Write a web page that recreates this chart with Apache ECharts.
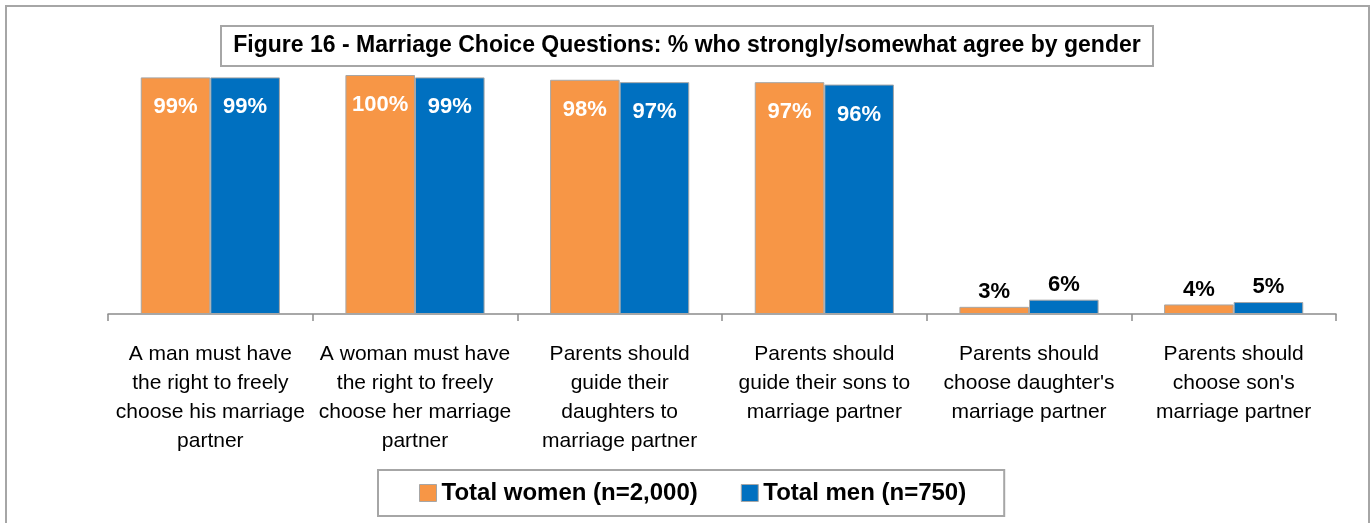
<!DOCTYPE html>
<html>
<head>
<meta charset="utf-8">
<script src="https://cdn.jsdelivr.net/npm/echarts@6/dist/echarts.min.js"></script>
<style>
html,body{margin:0;padding:0;background:#fff;}
#chart{width:1372px;height:523px;}
</style>
</head>
<body>
<div id="chart"></div>
<script>
const titleText = 'Figure 16 - Marriage Choice Questions: % who strongly/somewhat agree by gender';
const categories = [
  'A man must have\nthe right to freely\nchoose his marriage\npartner',
  'A woman must have\nthe right to freely\nchoose her marriage\npartner',
  'Parents should\nguide their\ndaughters to\nmarriage partner',
  'Parents should\nguide their sons to\nmarriage partner',
  'Parents should\nchoose daughter\'s\nmarriage partner',
  'Parents should\nchoose son\'s\nmarriage partner'
];
const seriesNames = ['Total women (n=2,000)', 'Total men (n=750)'];
const women = [99, 100, 98, 97, 3, 4];
const men = [99, 99, 97, 96, 6, 5];
const colors = ['#F79646', '#0070C0'];
const FONT = 'Liberation Sans';

function buildData(vals) {
  return vals.map(v => {
    const small = v < 20;
    return {
      value: v,
      label: small
        ? { position: 'top', color: '#000', distance: 4 }
        : { position: 'insideTop', color: '#fff', distance: 19 }
    };
  });
}

const chart = echarts.init(document.getElementById('chart'));
chart.setOption({
  animation: false,
  graphic: [
    { type: 'rect', shape: { x: 6, y: 6, width: 1363, height: 540 }, style: { fill: 'none', stroke: '#A6A6A6', lineWidth: 2 }, silent: true },
    { type: 'rect', shape: { x: 221, y: 26, width: 932, height: 40 }, style: { fill: '#fff', stroke: '#A6A6A6', lineWidth: 2 }, z: 10 },
    { type: 'text', x: 687, y: 46, z: 11, style: { text: titleText, fill: '#000', font: 'bold 23px "' + FONT + '"', align: 'center', verticalAlign: 'middle' } }
  ],
  grid: { left: 108, right: 36, top: 75, bottom: 209, containLabel: false },
  legend: {
    bottom: 7,
    left: 378,
    itemWidth: 17,
    itemHeight: 17,
    itemGap: 43,
    padding: [11, 38, 11, 41],
    borderColor: '#A6A6A6',
    borderWidth: 2,
    icon: 'rect',
    textStyle: { fontFamily: FONT, fontWeight: 'bold', fontSize: 24, color: '#000' },
    data: seriesNames.map((n, i) => ({ name: n, itemStyle: { borderColor: '#A6A6A6', borderWidth: 1 } }))
  },
  xAxis: {
    type: 'category',
    data: categories,
    axisLine: { lineStyle: { color: '#8C8C8C', width: 1.5 } },
    axisTick: { show: true, length: 7, lineStyle: { color: '#8C8C8C', width: 1.5 } },
    axisLabel: { interval: 0, margin: 26, fontFamily: FONT, fontSize: 21, lineHeight: 29, color: '#000' }
  },
  yAxis: {
    type: 'value', min: 0, max: 100, show: false,
    splitLine: { show: false }
  },
  series: [women, men].map((vals, i) => ({
    name: seriesNames[i],
    type: 'bar',
    barGap: '0%',
    barCategoryGap: '32%',
    itemStyle: { color: colors[i], borderColor: '#A6A6A6', borderWidth: 1 },
    label: {
      show: true,
      formatter: '{c}%',
      fontFamily: FONT,
      fontWeight: 'bold',
      fontSize: 22
    },
    data: buildData(vals)
  }))
});
</script>
</body>
</html>
